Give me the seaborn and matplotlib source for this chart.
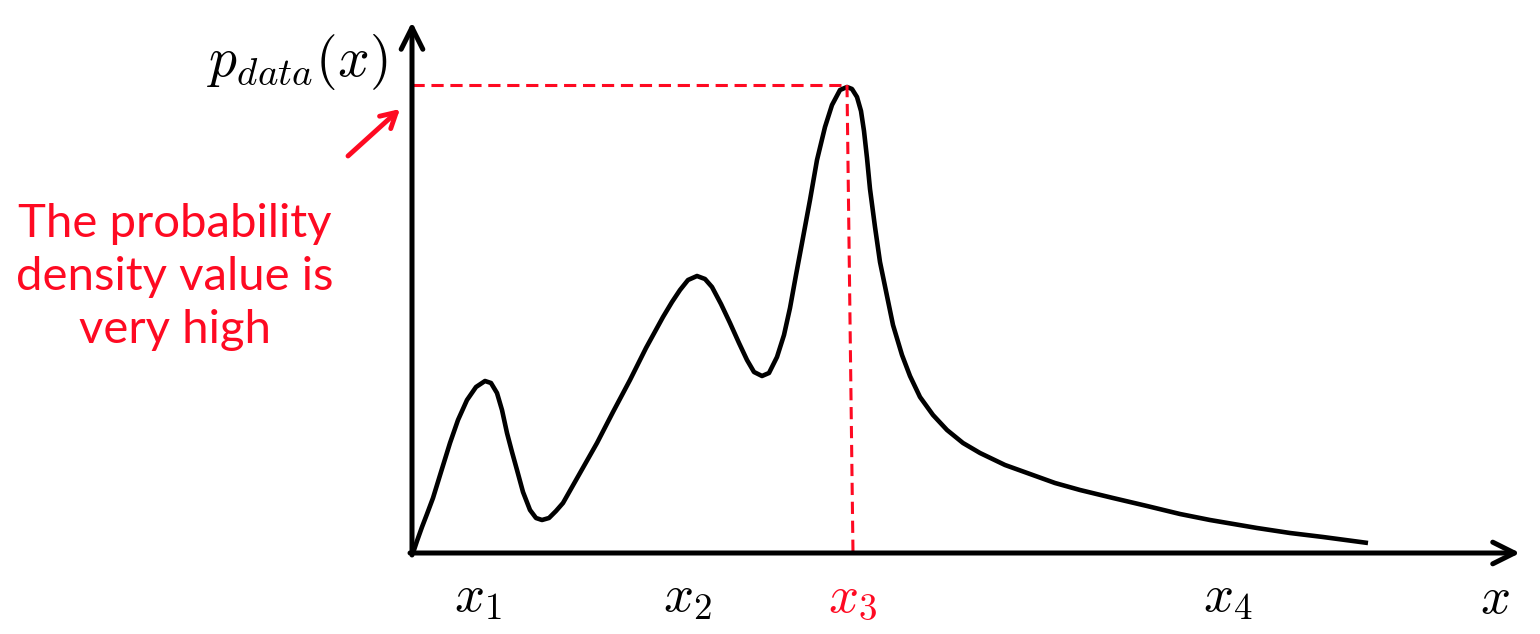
import matplotlib
matplotlib.use('Agg')
import matplotlib.pyplot as plt
import pandas as pd
import seaborn as sns

# ─── Dữ liệu (đơn vị tùy ý, gốc toạ độ = giao hai trục) ───
curve_x = [0.01, 0.05, 0.10, 0.15, 0.21, 0.29, 0.38, 0.46, 0.55, 0.64,
           0.73, 0.79, 0.85, 0.90, 0.95, 1.00, 1.05, 1.11, 1.18, 1.24,
           1.30, 1.37, 1.44, 1.51, 1.68, 1.85, 2.01, 2.18, 2.34, 2.51,
           2.60, 2.68, 2.76, 2.85, 2.93, 3.00, 3.09, 3.18, 3.27, 3.35,
           3.42, 3.50, 3.57, 3.65, 3.72, 3.78, 3.84, 3.90, 3.98, 4.05,
           4.13, 4.20, 4.28, 4.35, 4.40, 4.45, 4.49, 4.52, 4.55, 4.58,
           4.63, 4.68, 4.75, 4.81, 4.90, 4.98, 5.08, 5.21, 5.35, 5.51,
           5.68, 5.93, 6.18, 6.43, 6.68, 7.01, 7.35, 7.68, 7.98, 8.45,
           8.78, 9.11, 9.56]
curve_y = [0.00, 0.12, 0.26, 0.39, 0.55, 0.81, 1.10, 1.33, 1.53, 1.66,
           1.72, 1.70, 1.60, 1.43, 1.20, 1.01, 0.83, 0.61, 0.43, 0.35,
           0.33, 0.35, 0.42, 0.50, 0.80, 1.10, 1.41, 1.73, 2.05, 2.36,
           2.51, 2.63, 2.73, 2.77, 2.74, 2.66, 2.49, 2.30, 2.10, 1.93,
           1.81, 1.77, 1.80, 1.96, 2.18, 2.45, 2.78, 3.10, 3.53, 3.93,
           4.26, 4.48, 4.63, 4.66, 4.64, 4.56, 4.42, 4.22, 3.95, 3.64,
           3.26, 2.91, 2.57, 2.28, 1.98, 1.77, 1.56, 1.38, 1.23, 1.10,
           1.00, 0.88, 0.79, 0.70, 0.63, 0.55, 0.47, 0.39, 0.33, 0.25,
           0.20, 0.16, 0.10]

tick_pos = [0.66, 2.75, 4.41, 8.16, 10.83]
tick_labels = [r'$x_1$', r'$x_2$', r'$x_3$', r'$x_4$', r'$x$']
tick_colors = ['black', 'black', '#fe0a22', 'black', 'black']

peak_x = [0.0, 4.35, 4.41]
peak_y = [4.68, 4.68, 0.0]

note_text = 'The probability\ndensity value is\nvery high'
y_label = r'$p_{data}(x)$'

RED = '#fe0a22'

sns.set_theme(style='white')
plt.rcParams['mathtext.fontset'] = 'cm'
plt.rcParams['font.family'] = ['Lato', 'DejaVu Sans']

fig = plt.figure(figsize=(15.4, 6.34), dpi=100)
ax = fig.add_axes([0, 0, 1, 1])
ax.set_xlim(-4.12, 11.28)
ax.set_ylim(-0.81, 5.53)
ax.axis('off')

# Đường mật độ
df = pd.DataFrame({'x': curve_x, 'y': curve_y})
sns.lineplot(data=df, x='x', y='y', ax=ax, color='black', linewidth=3.3,
             sort=False, estimator=None, solid_capstyle='butt',
             solid_joinstyle='round')

# Đường gióng đỏ tới đỉnh
ax.plot(peak_x[:2], peak_y[:2], color=RED, linewidth=2.2, dashes=(4, 2.2))
ax.plot(peak_x[1:], peak_y[1:], color=RED, linewidth=2.2, dashes=(4, 2.2))

# Hai trục có mũi tên
arrow_kw = dict(arrowstyle='->,head_length=1.3,head_width=0.65',
                color='black', linewidth=3.6, shrinkA=0, shrinkB=0)
ax.annotate('', xy=(11.08, 0), xytext=(-0.02, 0), arrowprops=arrow_kw)
ax.annotate('', xy=(0, 5.31), xytext=(0, -0.02), arrowprops=arrow_kw)

# Nhãn trên trục x
for pos, lab, col in zip(tick_pos, tick_labels, tick_colors):
    ax.text(pos, -0.45, lab, fontsize=38, color=col, ha='center', va='center')

ax.text(-1.15, 4.91, y_label, fontsize=40, color='black',
        ha='center', va='center')

# Chú thích màu đỏ
ax.text(-2.37, 2.76, note_text, fontsize=34, color=RED, ha='center',
        va='center', linespacing=1.33)
ax.annotate('', xy=(-0.12, 4.44), xytext=(-0.64, 3.97),
            arrowprops=dict(arrowstyle='->,head_length=0.9,head_width=0.5',
                            color=RED, linewidth=3.5, shrinkA=0, shrinkB=0))

fig.savefig('out.png', dpi=100)
